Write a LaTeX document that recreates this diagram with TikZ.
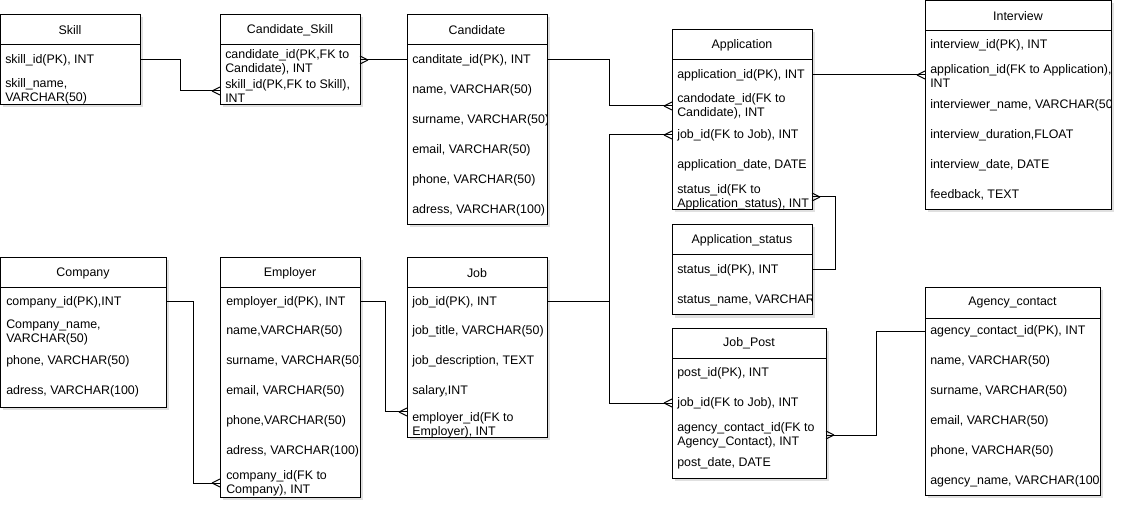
\documentclass[tikz,border=0pt]{standalone}
\usepackage{fontspec}
\setmainfont{Liberation Sans}
\usetikzlibrary{calc}
\tikzset{
  tbl/.style={draw=black, line width=0.75pt, fill=white, inner sep=0pt, outer sep=0pt},
  ttl/.style={font=\fontsize{9.3}{10.5}\selectfont, inner sep=0pt},
  rowt/.style={anchor=west, align=left, inner sep=0pt, font=\fontsize{9.3}{10.5}\selectfont},
  conn/.style={line width=0.75pt, black},
  shd/.style={fill=black!12},
}
\newcommand{\ertable}[6]{%
  \fill[shd] ({#2+2.5},{#3+2.5}) rectangle ({#4+2.5},{#5+2.5});
  \node[tbl, minimum width={(#4-#2)*0.75pt}, minimum height={(#5-#3)*0.75pt}] (#1) at ({(#2+#4)/2},{(#3+#5)/2}) {};
  \draw[conn] (#2,{#3+30}) -- (#4,{#3+30});
  \node[ttl] (#1-t) at ({(#2+#4)/2},{#3+15}) {#6};
}
\newcommand{\crowW}[1]{\draw[conn] ($(#1)+(-8,0)$) -- ($(#1)+(0,-4)$) ($(#1)+(-8,0)$) -- ($(#1)+(0,4)$);}
\newcommand{\crowE}[1]{\draw[conn] ($(#1)+(8,0)$) -- ($(#1)+(0,-4)$) ($(#1)+(8,0)$) -- ($(#1)+(0,4)$);}
\begin{document}
\begin{tikzpicture}[x=0.75pt, y=-0.75pt]
\useasboundingbox[fill=white] (0,0) rectangle (1123,509);

% ---------- Skill
\ertable{skill}{0}{15}{140}{105}{Skill}
\begin{scope}
\clip (0,45) rectangle (140,105);
\node[rowt] (skill-1) at (5,60) {skill\_id(PK), INT};
\node[rowt] (skill-2) at (5,91.5) {skill\_name,\\VARCHAR(50)};
\end{scope}

% ---------- Candidate_Skill
\ertable{cs}{220}{15}{360}{105}{Candidate\_Skill}
\begin{scope}
\clip (220,45) rectangle (360,105);
\node[rowt] (cs-1) at (225,62) {candidate\_id(PK,FK to\\Candidate), INT};
\node[rowt] (cs-2) at (225,91) {skill\_id(PK,FK to Skill),\\INT};
\end{scope}

% ---------- Candidate
\ertable{cand}{407}{15}{547}{225}{Candidate}
\begin{scope}
\clip (407,45) rectangle (547,225);
\node[rowt] (cand-1) at (412,60) {canditate\_id(PK), INT};
\node[rowt] (cand-2) at (412,90) {name, VARCHAR(50)};
\node[rowt] (cand-3) at (412,120) {surname, VARCHAR(50)};
\node[rowt] (cand-4) at (412,150) {email, VARCHAR(50)};
\node[rowt] (cand-5) at (412,180) {phone, VARCHAR(50)};
\node[rowt] (cand-6) at (412,210) {adress, VARCHAR(100)};
\end{scope}

% ---------- Application
\ertable{app}{672}{30}{812}{210}{Application}
\begin{scope}
\clip (672,60) rectangle (812,210);
\node[rowt] (app-1) at (677,75) {application\_id(PK), INT};
\node[rowt] (app-2) at (677,106) {candodate\_id(FK to\\Candidate), INT};
\node[rowt] (app-3) at (677,135) {job\_id(FK to Job), INT};
\node[rowt] (app-4) at (677,165) {application\_date, DATE};
\node[rowt] (app-5) at (677,197) {status\_id(FK to\\Application\_status), INT};
\end{scope}

% ---------- Interview
\ertable{int}{925}{1}{1111}{210}{Interview}
\begin{scope}
\clip (925,31) rectangle (1111,210);
\node[rowt] (int-1) at (930,45) {interview\_id(PK), INT};
\node[rowt] (int-2) at (930,76) {application\_id(FK to Application),\\INT};
\node[rowt] (int-3) at (930,105) {interviewer\_name, VARCHAR(50)};
\node[rowt] (int-4) at (930,135) {interview\_duration,FLOAT};
\node[rowt] (int-5) at (930,165) {interview\_date, DATE};
\node[rowt] (int-6) at (930,195) {feedback, TEXT};
\end{scope}

% ---------- Application_status
\ertable{as}{672}{225}{812}{315}{Application\_status}
\begin{scope}
\clip (672,255) rectangle (812,315);
\node[rowt] (as-1) at (677,270) {status\_id(PK), INT};
\node[rowt] (as-2) at (677,300) {status\_name, VARCHAR(50)};
\end{scope}

% ---------- Job_Post
\ertable{jp}{672}{328}{826}{478}{Job\_Post}
\begin{scope}
\clip (672,358) rectangle (826,478);
\node[rowt] (jp-1) at (677,373) {post\_id(PK), INT};
\node[rowt] (jp-2) at (677,403) {job\_id(FK to Job), INT};
\node[rowt] (jp-3) at (677,435) {agency\_contact\_id(FK to\\Agency\_Contact), INT};
\node[rowt] (jp-4) at (677,463) {post\_date, DATE};
\end{scope}

% ---------- Company
\ertable{comp}{0}{258}{166}{407}{Company}
\begin{scope}
\clip (0,288) rectangle (166,407);
\node[rowt] (comp-1) at (6,302) {company\_id(PK),INT};
\node[rowt] (comp-2) at (6,332) {Company\_name,\\VARCHAR(50)};
\node[rowt] (comp-3) at (6,361) {phone, VARCHAR(50)};
\node[rowt] (comp-4) at (6,391) {adress, VARCHAR(100)};
\end{scope}

% ---------- Employer
\ertable{emp}{220}{258}{360}{497}{Employer}
\begin{scope}
\clip (220,288) rectangle (360,497);
\node[rowt] (emp-1) at (226,302) {employer\_id(PK), INT};
\node[rowt] (emp-2) at (226,331) {name,VARCHAR(50)};
\node[rowt] (emp-3) at (226,361) {surname, VARCHAR(50)};
\node[rowt] (emp-4) at (226,391) {email, VARCHAR(50)};
\node[rowt] (emp-5) at (226,421) {phone,VARCHAR(50)};
\node[rowt] (emp-6) at (226,451) {adress, VARCHAR(100)};
\node[rowt] (emp-7) at (226,483) {company\_id(FK to\\Company), INT};
\end{scope}

% ---------- Job
\ertable{job}{407}{258}{547}{437}{Job}
\begin{scope}
\clip (407,288) rectangle (547,437);
\node[rowt] (job-1) at (412,302) {job\_id(PK), INT};
\node[rowt] (job-2) at (412,331) {job\_title, VARCHAR(50)};
\node[rowt] (job-3) at (412,361) {job\_description, TEXT};
\node[rowt] (job-4) at (412,391) {salary,INT};
\node[rowt] (job-5) at (412,425) {employer\_id(FK to\\Employer), INT};
\end{scope}

% ---------- Agency_contact
\ertable{ag}{925}{288}{1100}{495}{Agency\_contact}
\begin{scope}
\clip (925,318) rectangle (1100,495);
\node[rowt] (ag-1) at (930,331) {agency\_contact\_id(PK), INT};
\node[rowt] (ag-2) at (930,361) {name, VARCHAR(50)};
\node[rowt] (ag-3) at (930,391) {surname, VARCHAR(50)};
\node[rowt] (ag-4) at (930,421) {email, VARCHAR(50)};
\node[rowt] (ag-5) at (930,451) {phone, VARCHAR(50)};
\node[rowt] (ag-6) at (930,481) {agency\_name, VARCHAR(100)};
\end{scope}

% ---------- trunk coordinates
\coordinate (t1) at (180,0);
\coordinate (t2) at (609,0);
\coordinate (t3) at (835,0);
\coordinate (t4) at (193,0);
\coordinate (t5) at (385,0);
\coordinate (t6) at (876,0);

% ---------- connectors
\coordinate (e1) at (cs.west |- cs-2);
\draw[conn] (skill.east |- skill-1) -- (skill-1 -| t1) -- (cs-2 -| t1) -- (e1);
\crowW{e1}

\coordinate (e2) at (cs.east |- cand-1);
\draw[conn] (e2) -- (cand.west |- cand-1);
\crowE{e2}

\coordinate (e3) at (app.west |- app-2);
\draw[conn] (cand.east |- cand-1) -- (cand-1 -| t2) -- (app-2 -| t2) -- (e3);
\crowW{e3}

\coordinate (e4) at (app.west |- app-3);
\draw[conn] (job.east |- job-1) -- (job-1 -| t2) -- (app-3 -| t2) -- (e4);
\crowW{e4}

\coordinate (e5) at (jp.west |- jp-2);
\draw[conn] (job-1 -| t2) -- (jp-2 -| t2) -- (e5);
\crowW{e5}

\coordinate (e6) at (int.west |- app-1);
\draw[conn] (app.east |- app-1) -- (e6);
\crowW{e6}

\coordinate (e7) at (app.east |- app-5);
\draw[conn] (e7) -- (app-5 -| t3) -- (as-1 -| t3) -- (as.east |- as-1);
\crowE{e7}

\coordinate (e8) at (emp.west |- emp-7);
\draw[conn] (comp.east |- comp-1) -- (comp-1 -| t4) -- (emp-7 -| t4) -- (e8);
\crowW{e8}

\coordinate (e9) at (job.west |- job-5.north);
\draw[conn] (emp.east |- emp-1) -- (emp-1 -| t5) -- (job-5.north -| t5) -- (e9);
\crowW{e9}

\coordinate (e10) at (jp.east |- jp-3);
\draw[conn] (e10) -- (jp-3 -| t6) -- (ag-1 -| t6) -- (ag.west |- ag-1);
\crowE{e10}
\end{tikzpicture}
\end{document}
